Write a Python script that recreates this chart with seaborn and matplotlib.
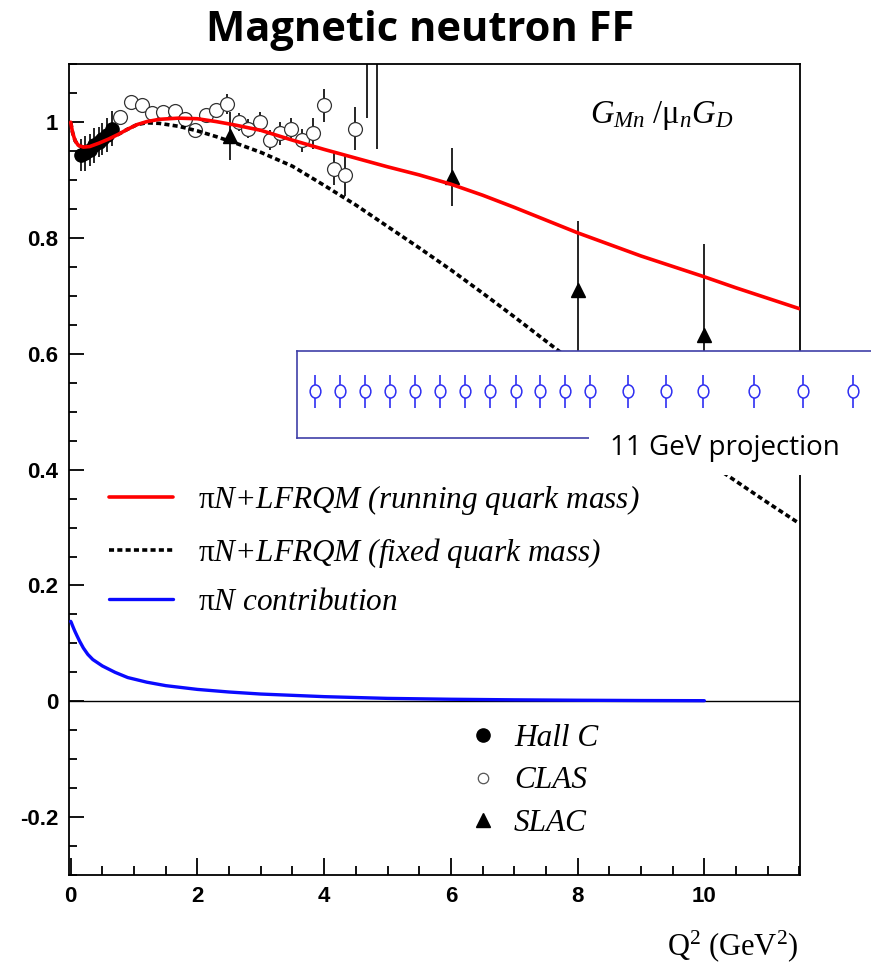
import matplotlib
matplotlib.use("Agg")
import matplotlib.pyplot as plt
import numpy as np
import pandas as pd
import seaborn as sns
from matplotlib.lines import Line2D
from matplotlib.patches import Rectangle
from matplotlib.path import Path
from matplotlib.ticker import MultipleLocator, FixedLocator
from matplotlib.font_manager import FontProperties

# ---------------- data ----------------
q2_model = [0.0, 0.03, 0.07, 0.12, 0.2, 0.3, 0.45, 0.6, 0.75, 0.9, 1.05, 1.2, 1.4, 1.7, 2.0,
            2.3, 2.6, 3.0, 3.5, 4.0, 4.5, 5.0, 5.5, 6.0, 6.5, 7.0, 7.5, 8.0, 8.5, 9.0, 9.5,
            10.0, 10.5, 11.0, 11.5]
gmn_running = [1.0, 0.982, 0.968, 0.960, 0.957, 0.958, 0.964, 0.971, 0.979, 0.988, 0.996,
               1.001, 1.005, 1.007, 1.006, 1.001, 0.995, 0.986, 0.969, 0.953, 0.938, 0.923,
               0.909, 0.893, 0.874, 0.853, 0.831, 0.809, 0.789, 0.769, 0.751, 0.733, 0.714,
               0.696, 0.678]
gmn_fixed = [1.0, 0.982, 0.968, 0.960, 0.957, 0.958, 0.964, 0.971, 0.979, 0.988, 0.996,
             0.999, 0.998, 0.993, 0.985, 0.975, 0.964, 0.948, 0.924, 0.891, 0.857, 0.820,
             0.783, 0.745, 0.705, 0.664, 0.622, 0.580, 0.539, 0.497, 0.456, 0.417, 0.380,
             0.343, 0.307]

q2_pin = [0.0, 0.01, 0.02, 0.035, 0.05, 0.07, 0.1, 0.14, 0.2, 0.27, 0.35, 0.5, 0.7, 0.9,
          1.2, 1.5, 2.0, 2.5, 3.0, 4.0, 5.0, 6.0, 7.0, 8.0, 9.0, 10.0]
gmn_pin = [0.138, 0.136, 0.133, 0.129, 0.125, 0.120, 0.113, 0.104, 0.092, 0.081, 0.072,
           0.061, 0.050, 0.041, 0.033, 0.027, 0.0205, 0.016, 0.0125, 0.008, 0.005, 0.0035,
           0.0025, 0.0018, 0.0013, 0.001]

hallc_q2 = [0.17, 0.23, 0.30, 0.37, 0.44, 0.50, 0.57, 0.65]
hallc_val = [0.943, 0.946, 0.952, 0.960, 0.966, 0.971, 0.978, 0.989]
hallc_err = [0.028, 0.030, 0.028, 0.030, 0.026, 0.028, 0.030, 0.030]

clas_q2 = [0.78, 0.95, 1.12, 1.29, 1.46, 1.65, 1.80, 1.96, 2.14, 2.29, 2.46, 2.65, 2.80,
           2.98, 3.15, 3.30, 3.48, 3.65, 3.83, 4.00, 4.16, 4.33, 4.49, 4.67, 4.83]
clas_val = [1.009, 1.035, 1.029, 1.016, 1.018, 1.020, 1.005, 0.986, 1.012, 1.021, 1.032,
            1.000, 0.989, 1.000, 0.969, 0.981, 0.989, 0.969, 0.981, 1.029, 0.920, 0.908,
            0.989, 1.350, 1.400]
clas_err = [0.008, 0.008, 0.008, 0.008, 0.008, 0.008, 0.009, 0.009, 0.012, 0.012, 0.017,
            0.016, 0.016, 0.017, 0.017, 0.020, 0.019, 0.020, 0.027, 0.029, 0.029, 0.036,
            0.037, 0.342, 0.447]

slac_q2 = [2.51, 6.01, 8.0, 10.0]
slac_val = [0.976, 0.905, 0.710, 0.632]
slac_err = [0.042, 0.050, 0.119, 0.158]

proj_q2 = [3.86, 4.25, 4.65, 5.04, 5.44, 5.83, 6.22, 6.62, 7.02, 7.41, 7.80, 8.20, 8.80,
           9.39, 9.98, 10.78, 11.56, 12.35]
proj_val = [0.535, 0.535, 0.535, 0.535, 0.535, 0.535, 0.535, 0.535, 0.535, 0.535, 0.535,
            0.535, 0.535, 0.535, 0.535, 0.535, 0.535, 0.535]
proj_err = [0.029, 0.029, 0.029, 0.029, 0.029, 0.029, 0.029, 0.029, 0.029, 0.029, 0.029,
            0.029, 0.029, 0.029, 0.029, 0.029, 0.029, 0.029]

xticks = [0, 2, 4, 6, 8, 10]
xtick_labels = ["0", "2", "4", "6", "8", "10"]
yticks = [-0.2, 0.0, 0.2, 0.4, 0.6, 0.8, 1.0]
ytick_labels = ["-0.2", "0", "0.2", "0.4", "0.6", "0.8", "1"]

lab_run = r"$\mathrm{\pi}$N+LFRQM (running quark mass)"
lab_fixed = r"$\mathrm{\pi}$N+LFRQM (fixed quark mass)"
lab_pin = r"$\mathrm{\pi}$N contribution"
exp_labels = ["Hall C", "CLAS", "SLAC"]

# ---------------- style ----------------
sns.set_theme(style="ticks")
plt.rcParams["font.family"] = ["Liberation Serif", "DejaVu Sans"]
plt.rcParams["mathtext.fontset"] = "custom"
plt.rcParams["mathtext.rm"] = "Liberation Serif"
plt.rcParams["mathtext.it"] = "Liberation Serif:italic"
plt.rcParams["mathtext.bf"] = "Liberation Serif:bold"
plt.rcParams["text.color"] = "black"
plt.rcParams["axes.labelcolor"] = "black"
plt.rcParams["xtick.color"] = "black"
plt.rcParams["ytick.color"] = "black"

W, H = 871, 975
fig = plt.figure(figsize=(W / 100, H / 100), dpi=100)
fig.patch.set_facecolor("white")


def fx(px):
    return px / W


def fy(py):
    return 1 - py / H


ax = fig.add_axes([fx(69.3), fy(875), fx(800) - fx(69.3), fy(64.3) - fy(875)])
ax.set_facecolor("white")
ax.set_xlim(-0.022, 11.51)
ax.set_ylim(-0.30, 1.10)

ax.axhline(0, color="black", lw=1.0, zorder=1)

df_model = pd.DataFrame({"Q2": q2_model, "running": gmn_running, "fixed": gmn_fixed})
df_pin = pd.DataFrame({"Q2": q2_pin, "pin": gmn_pin})

sns.lineplot(data=df_model, x="Q2", y="fixed", ax=ax, color="black", lw=2.6, zorder=3,
             legend=False)
h_fixed = ax.lines[-1]
h_fixed.set_linestyle((0, (1.4, 0.9)))
sns.lineplot(data=df_model, x="Q2", y="running", ax=ax, color="#ff0000", lw=2.6, zorder=4,
             legend=False)
h_run = ax.lines[-1]
sns.lineplot(data=df_pin, x="Q2", y="pin", ax=ax, color="#0a0aff", lw=2.4, zorder=4,
             legend=False)
h_pin = ax.lines[-1]

eb_kw = dict(ecolor="black", elinewidth=1.2, capsize=0, linestyle="none", zorder=2)
ax.errorbar(hallc_q2, hallc_val, yerr=hallc_err, marker="o", ms=9.5, mfc="black",
            mec="black", **eb_kw)
ax.errorbar(clas_q2, clas_val, yerr=clas_err, marker="o", ms=10, mfc="white",
            mec="#333333", mew=0.9, **eb_kw)
ax.errorbar(slac_q2, slac_val, yerr=slac_err, marker="^", ms=10, mfc="black",
            mec="black", **eb_kw)

# axes / ticks
ax.set_ylabel("")
ax.xaxis.set_major_locator(FixedLocator(xticks))
ax.set_xticklabels(xtick_labels)
ax.xaxis.set_minor_locator(MultipleLocator(0.5))
ax.yaxis.set_major_locator(FixedLocator(yticks))
ax.set_yticklabels(ytick_labels)
ax.yaxis.set_minor_locator(MultipleLocator(0.05))
ax.tick_params(axis="both", which="both", direction="in", top=False, right=False,
               width=1.3, color="black", labelcolor="black")
ax.tick_params(axis="x", which="major", length=12, pad=8)
ax.tick_params(axis="x", which="minor", length=6.5)
ax.tick_params(axis="y", which="major", length=10.5, pad=8)
ax.tick_params(axis="y", which="minor", length=5.8)
tick_fp = FontProperties(family=["Liberation Sans Narrow", "Liberation Sans"], weight="bold",
                         size=16)
for lab in ax.get_xticklabels() + ax.get_yticklabels():
    lab.set_fontproperties(tick_fp)
    lab.set_color("black")
for s in ax.spines.values():
    s.set_color("black")
    s.set_linewidth(1.3)

ax.set_xlabel(r"$\mathrm{Q^{2}\ (GeV^{2})}$", fontsize=22, color="black")
ax.xaxis.label.set_ha("right")
ax.xaxis.label.set_va("top")
ax.xaxis.set_label_coords(0.997, -0.0654)

fig.text(fx(590), fy(123.3), r"$G_{Mn}\ /\mathrm{\mu}_{n}G_{D}$", fontsize=23.5,
         ha="left", va="baseline", color="black")

fig.text(fx(420), fy(41), "Magnetic neutron FF", fontsize=30, fontweight="bold",
         family=["Open Sans", "DejaVu Sans"], ha="center", va="baseline", color="black")

# legends
leg_fp = FontProperties(family="Liberation Serif", style="italic", size=22.5)
leg1 = ax.legend([h_run, h_fixed, h_pin], [lab_run, lab_fixed, lab_pin], prop=leg_fp,
                 loc="center left", bbox_to_anchor=(fx(109), fy(550)),
                 bbox_transform=fig.transFigure, frameon=False, borderpad=0,
                 borderaxespad=0, handlelength=2.05, handletextpad=0.8,
                 labelspacing=0.6, labelcolor="black")
ax.add_artist(leg1)

m_hallc = Line2D([], [], linestyle="none", marker="o", ms=9.5, mfc="black", mec="black")
m_clas = Line2D([], [], linestyle="none", marker="o", ms=7.5, mfc="white", mec="#555555",
                mew=0.9)
m_slac = Line2D([], [], linestyle="none", marker="^", ms=9.5, mfc="black", mec="black")
leg2_fp = FontProperties(family="Liberation Serif", style="italic", size=22.5)
leg2 = ax.legend([m_hallc, m_clas, m_slac], exp_labels, prop=leg2_fp, loc="center left",
                 bbox_to_anchor=(fx(470.5), fy(781)), bbox_transform=fig.transFigure,
                 frameon=False, borderpad=0, borderaxespad=0, handlelength=0.8,
                 handletextpad=0.59, labelspacing=0.42, numpoints=1, labelcolor="black")

# ---------------- 11 GeV projection overlay ----------------
navy = "#3f3fa8"
proj_blue = "#2f2ff2"
box_l, box_b = fx(297.3), fy(437.7)
box_r, box_t = fx(885), fy(351)
ax2 = fig.add_axes([box_l, box_b, box_r - box_l, box_t - box_b])
ax2.set_zorder(5)
ax2.set_facecolor("white")
for s in ax2.spines.values():
    s.set_color(navy)
    s.set_linewidth(1.2)
ax2.set_xticks([])
ax2.set_yticks([])
inv = ax.transData.inverted()
(x0d, y0d), (x1d, y1d) = inv.transform(
    fig.transFigure.transform([[box_l, box_b], [box_r, box_t]]))
ax2.set_xlim(x0d, x1d)
ax2.set_ylim(y0d, y1d)

circ = Path.unit_circle()
oval = Path(circ.vertices * np.array([0.82, 1.0]), circ.codes)
ax2.errorbar(proj_q2, proj_val, yerr=proj_err, marker=oval, ms=9.4, mfc="white",
             mec=proj_blue, mew=1.1, ecolor=proj_blue, elinewidth=1.2, linestyle="none",
             capsize=0)

fig.add_artist(Rectangle((fx(589), fy(475)), fx(885) - fx(589), fy(430) - fy(475),
                         transform=fig.transFigure, facecolor="white", edgecolor="none",
                         zorder=6))
fig.text(fx(610), fy(455), "11 GeV projection", fontsize=20,
         family=["Open Sans", "DejaVu Sans"], ha="left", va="baseline", zorder=7,
         color="black")

fig.savefig("out.png", dpi=100)
